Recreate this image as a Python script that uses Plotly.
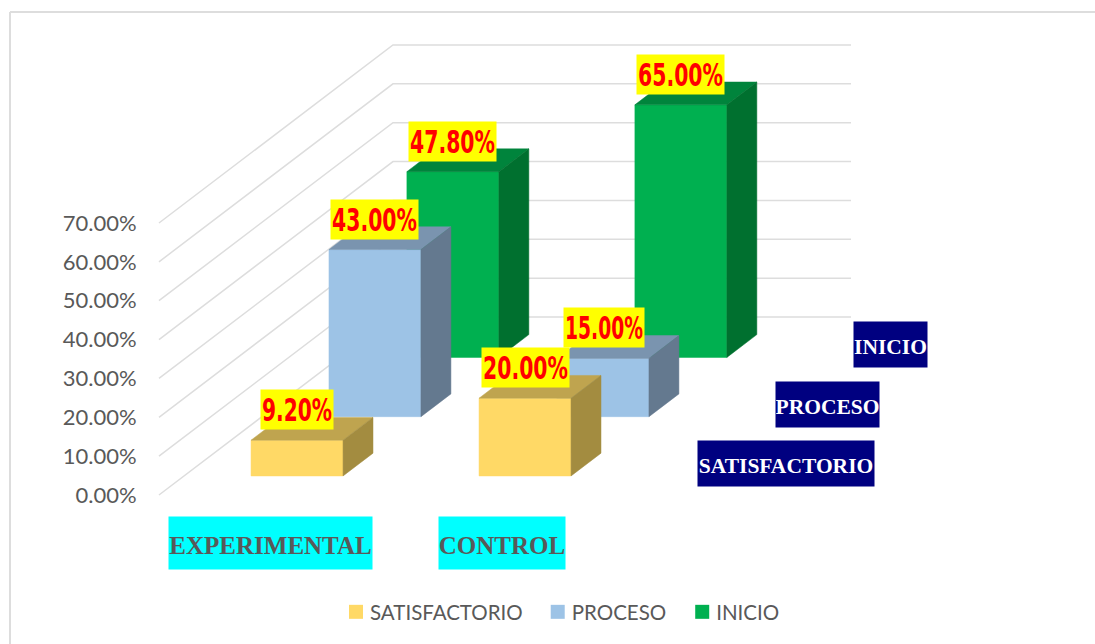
import plotly.graph_objects as go

categories = ["EXPERIMENTAL", "CONTROL"]
series_names = ["SATISFACTORIO", "PROCESO", "INICIO"]
satisfactorio = [9.2, 20.0]
proceso = [43.0, 15.0]
inicio = [47.8, 65.0]
tick_values = [0, 10, 20, 30, 40, 50, 60, 70]

W, H = 1095, 644
LEFT = 150
X0, XU = 226.0, 228.0     # pixel of category 0, pixels per category
Y0, YU = 495.0, 3.886     # pixel of 0 %, pixels per percent
DX, DY = 234.0, 178.0     # oblique shift of full depth
BAR_W = 92 / XU
BAR_D = 0.128
ROW_D = [0.107, 0.44, 0.773]
GRID = "#DDDDDD"
INK = "#595959"
SANS = "Lato"
SERIF = "Liberation Serif"
styles = [
    ("#FFD966", "#BFA44F", "#A38C40"),
    ("#9DC3E6", "#7A94AF", "#64798F"),
    ("#00B050", "#00843C", "#00702F"),
]


def proj(c, v, d):
    return c + DX * d / XU, v + DY * d / YU


def poly(pts, color, name):
    xs, ys = zip(*[proj(*p) for p in pts + pts[:1]])
    return go.Scatter(x=xs, y=ys, mode="lines", fill="toself", fillcolor=color,
                      line=dict(color=color, width=0.5), showlegend=False,
                      hoverinfo="skip", name=name)


fig = go.Figure()

# legend entries
for name, st in zip(series_names, styles):
    fig.add_trace(go.Scatter(x=[None], y=[None], mode="markers", name=name,
                             marker=dict(symbol="square", size=14, color=st[0])))

# walls
c_left, c_right = -0.294, 1.715
for v in tick_values:
    xs, ys = zip(*[proj(c_left, v, 0), proj(c_left, v, 1), proj(c_right, v, 1)])
    fig.add_trace(go.Scatter(x=xs, y=ys, mode="lines", showlegend=False, hoverinfo="skip",
                             line=dict(color=GRID, width=1.5)))

# boxes, back row first
rows = [satisfactorio, proceso, inicio]
for r in (2, 1, 0):
    d0, d1 = ROW_D[r], ROW_D[r] + BAR_D
    front, top, side = styles[r]
    for i, v in enumerate(rows[r]):
        c0, c1 = i, i + BAR_W
        fig.add_trace(poly([(c0, 0, d0), (c1, 0, d0), (c1, v, d0), (c0, v, d0)], front, series_names[r]))
        fig.add_trace(poly([(c0, v, d0), (c1, v, d0), (c1, v, d1), (c0, v, d1)], top, series_names[r]))
        fig.add_trace(poly([(c1, 0, d0), (c1, 0, d1), (c1, v, d1), (c1, v, d0)], side, series_names[r]))

annotations = []
# data labels
for r in range(3):
    for i, v in enumerate(rows[r]):
        x, y = proj(i + BAR_W / 2, v, ROW_D[r])
        txt = f"{v:.2f}%"
        lw = 72 if len(txt) <= 5 else (80 if txt[0] == "1" else 87)
        annotations.append(dict(
            x=x, y=y, xref="x", yref="y", yshift=30.5, xshift=1 if txt[0] == "1" else 0,
            showarrow=False, text=txt,
            width=lw, height=39, bgcolor="#FFFF00", borderpad=0,
            font=dict(family="DejaVu Sans", size=32, color="#FF0000", weight="bold")))

# category labels
for i, (name, w, sh) in enumerate(zip(categories, [203, 126], [-1.5, 2])):
    annotations.append(dict(
        x=i + BAR_W / 2, y=(Y0 - 543) / YU, xref="x", yref="y", xshift=sh, showarrow=False, text=name,
        width=w, height=52, bgcolor="#00FFFF", borderpad=0,
        font=dict(family=SERIF, size=25, color=INK, weight="bold")))

# series (depth axis) labels
for r, (name, w) in enumerate(zip(series_names, [176, 103, 73])):
    x, y = proj(1.956, 3.2, ROW_D[r])
    annotations.append(dict(
        x=x, y=y, xref="x", yref="y", xanchor="left", showarrow=False, text=name,
        width=w, height=45, bgcolor="#000080", borderpad=0,
        font=dict(family=SERIF, size=21.5, color="#FFFFFF", weight="bold")))

PW = W - LEFT


def px(x):
    return (x - LEFT) / PW


def py(y):
    return 1 - y / H


shapes = [
    dict(type="line", xref="paper", yref="paper", x0=px(10), x1=px(W), y0=py(12), y1=py(12),
         line=dict(color=GRID, width=2)),
    dict(type="line", xref="paper", yref="paper", x0=px(10), x1=px(10), y0=py(12), y1=py(H),
         line=dict(color=GRID, width=2)),
]

fig.update_layout(
    width=W, height=H, margin=dict(l=LEFT, r=0, t=0, b=0),
    paper_bgcolor="white", plot_bgcolor="white",
    font=dict(family=SANS, color=INK),
    xaxis=dict(range=[(LEFT - X0) / XU, (W - X0) / XU], visible=False, fixedrange=True),
    yaxis=dict(range=[(Y0 - H) / YU, Y0 / YU], tickvals=tick_values,
               ticktext=[f"{v:.2f}%" for v in tick_values],
               showgrid=False, zeroline=False, showline=False, ticks="outside", ticklen=8,
               tickcolor="rgba(0,0,0,0)", tickfont=dict(size=22, color=INK, family=SANS), fixedrange=True),
    legend=dict(orientation="h", x=px(336), xanchor="left", y=py(612), yanchor="middle",
                font=dict(size=20.5, color=INK, family=SANS), bgcolor="rgba(0,0,0,0)"),
    annotations=annotations, shapes=shapes, showlegend=True,
)

# Page margin off; the yellow data labels use a narrow display face in the
# reference, so their glyphs are condensed to the label width. Legend entries
# get the reference's spacing.
post = """
document.body.style.margin = '0';
var gd = document.getElementById('{plot_id}');
function tune() {
  gd.querySelectorAll('.annotation-text').forEach(function (t) {
    var s = t.textContent;
    if (/^[0-9.]+%$/.test(s)) {
      t.setAttribute('textLength', s.length > 5 ? (s[0] === '1' ? 78 : 85) : 70);
      t.setAttribute('lengthAdjust', 'spacingAndGlyphs');
    } else {
      t.setAttribute('transform', 'translate(0,2)');
    }
  });
  var legend = gd.querySelector('.legend');
  if (legend) {
    var shifts = [0, 4, 9];
    legend.querySelectorAll('.traces').forEach(function (g, i) {
      if (g.getAttribute('data-tuned')) return;
      g.setAttribute('data-tuned', '1');
      var m = /translate\\(([-0-9.]+)[, ]+([-0-9.]+)\\)/.exec(g.getAttribute('transform'));
      if (m) g.setAttribute('transform', 'translate(' + (parseFloat(m[1]) + shifts[i]) + ',' + m[2] + ')');
      var txt = g.querySelector('.legendtext');
      if (txt) txt.setAttribute('x', parseFloat(txt.getAttribute('x')) - 6);
    });
    var clip = document.querySelector('[id^="legend"] rect');
    if (clip) clip.setAttribute('width', 600);
  }
}
tune();
gd.on('plotly_afterplot', tune);
setTimeout(tune, 100);
"""
fig.write_html("out.html", post_script=post, config={"displayModeBar": False})
